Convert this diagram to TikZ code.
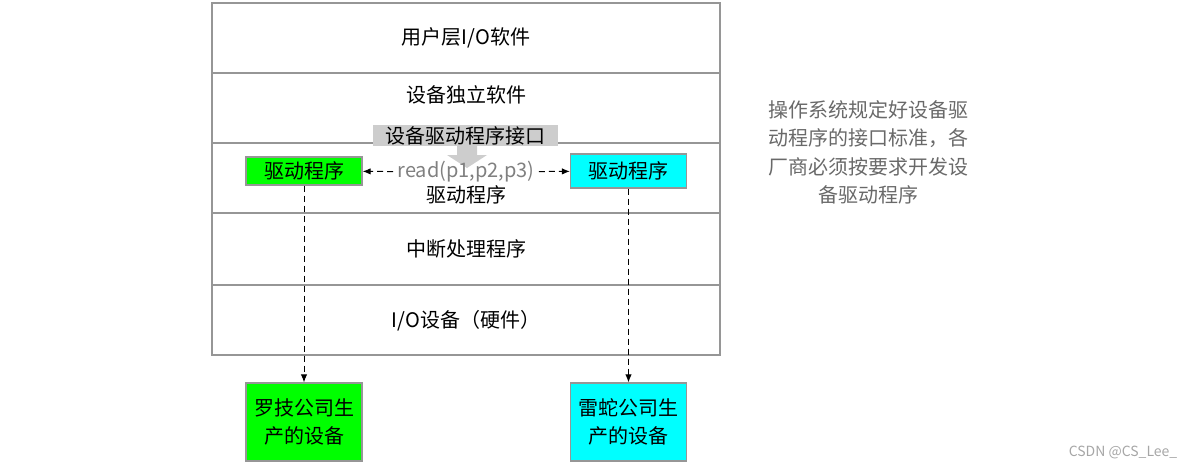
\documentclass[tikz,border=0pt]{standalone}
\usepackage{fontspec}
\setmainfont{Noto Sans CJK SC}
\usepackage{xcolor}
\usetikzlibrary{arrows.meta,positioning}
\definecolor{drvgreen}{RGB}{0,255,0}
\definecolor{drvcyan}{RGB}{0,255,255}
\definecolor{ifacegray}{RGB}{205,205,205}
\definecolor{framegray}{RGB}{150,150,150}
\definecolor{notegray}{RGB}{105,105,105}
\newcommand{\tsize}{\fontsize{10}{14.2}\selectfont}

\begin{document}
\begin{tikzpicture}[
  x=0.5pt, y=-0.5pt,
  >=Latex,
  layer/.style={draw=framegray, line width=0.6pt},
  lbl/.style={font=\tsize, inner sep=2pt},
  drv/.style={draw=framegray, line width=0.6pt, font=\tsize, inner sep=0pt,
              minimum width=58pt, minimum height=14pt},
  dev/.style={draw=framegray, line width=0.6pt, font=\tsize, align=center,
              inner sep=0pt, minimum width=58pt, minimum height=39pt},
  e/.style={->, dash pattern=on 3pt off 2pt, line width=0.5pt,
            arrows={-Latex[length=4pt, width=3.2pt]}},
]
\useasboundingbox (0,0) rectangle (1188,466);

% layers of the I/O software stack
\draw[layer] (212,3) rectangle (720,355);
\foreach \y in {73,143,213,285}
  \draw[layer] (212,\y) -- (720,\y);

\node[lbl] (user)  at (466,38)  {用户层I/O软件};
\node[lbl] (indep) at (466,95)  {设备独立软件};
\node[lbl] (irq)   at (466,249) {中断处理程序};
\node[lbl] (hw)    at (466,321) {I/O设备（硬件）};

% driver interface
\node[lbl, fill=ifacegray, inner sep=0pt, minimum width=92.5pt, minimum height=10.5pt]
  (iface) at (465.5,135.5) {设备驱动程序接口};
\fill[ifacegray] (457,146) -- (477,146) -- (477,155) -- (487,155) -- (467,168)
  -- (447,155) -- (457,155) -- cycle;

\node[drv, fill=drvgreen] (drvA) at (304,171)   {驱动程序};
\node[drv, fill=drvcyan, minimum height=17pt] (drvB) at (628.5,171) {驱动程序};
\node[lbl, text=gray] (rd) at (466,172) {read(p1,p2,p3)};
\node[lbl] (drvtxt) at (466,195) {驱动程序};

\draw[e] (rd) -- (drvA);
\draw[e] (rd) -- (drvB);

% vendor devices
\node[dev, fill=drvgreen] (devA) at (304,422)   {罗技公司生\\产的设备};
\node[dev, fill=drvcyan]  (devB) at (628.5,422) {雷蛇公司生\\产的设备};

\draw[e] (drvA) -- (devA);
\draw[e] (drvB) -- (devB);

% side note
\node[lbl, text=notegray, align=center] (note) at (868,152.5)
  {操作系统规定好设备驱\\动程序的接口标准，各\\厂商必须按要求开发设\\备驱动程序};
\node[font=\fontsize{7}{8}\selectfont, text=gray!70, inner sep=0pt] (csdn) at (1123,452) {CSDN @CS\_Lee\_};
\end{tikzpicture}
\end{document}
